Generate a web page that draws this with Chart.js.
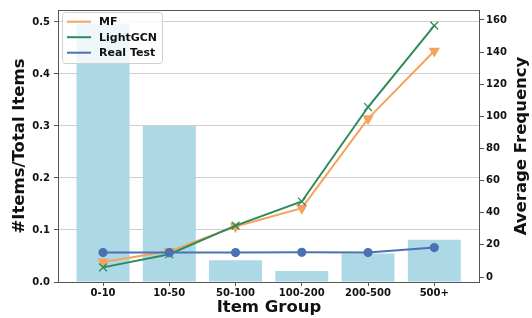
<!DOCTYPE html>
<html>
<head>
<meta charset="utf-8">
<script src="https://cdn.jsdelivr.net/npm/chart.js@4"></script>
<style>
  html, body { margin: 0; padding: 0; background: #fff; }
  canvas { display: block; }
</style>
</head>
<body>
<canvas id="chart" width="532" height="318"></canvas>
<script>
// values
const groups = ['0-10', '10-50', '50-100', '100-200', '200-500', '500+'];
const itemShare = [0.497, 0.300, 0.042, 0.021, 0.055, 0.081];
const mfFreq = [9.4, 16.0, 31.4, 42.9, 98.6, 140.7];
const lightgcnFreq = [6.0, 14.2, 32.0, 47.0, 105.8, 156.5];
const realTestFreq = [15.2, 15.2, 15.2, 15.4, 15.2, 18.3];
const leftTicks = [0, 0.1, 0.2, 0.3, 0.4, 0.5];
const rightTicks = [0, 20, 40, 60, 80, 100, 120, 140, 160];

const COLORS = {
  bar: '#ADD8E6',
  mf: '#F5A35C',
  lightgcn: '#2E8B57',
  real: '#4A72B2',
  spine: '#555',
  grid: '#cfcfcf',
  text: '#111'
};
const FONT = '"DejaVu Sans", sans-serif';

const toPoints = arr => arr.map((v, i) => ({ x: i, y: v }));

// legend, axis titles and frame drawn by hand (matplotlib style)
const decorations = {
  id: 'decorations',
  afterDraw(chart) {
    const { ctx, chartArea: a } = chart;
    ctx.save();

    // frame
    ctx.strokeStyle = COLORS.spine;
    ctx.lineWidth = 1;
    ctx.strokeRect(Math.round(a.left) + 0.5, Math.round(a.top) + 0.5,
      Math.round(a.right - a.left) - 1, Math.round(a.bottom - a.top));

    // axis titles
    ctx.fillStyle = COLORS.text;
    ctx.font = 'bold 16.5px ' + FONT;
    ctx.textAlign = 'center';
    ctx.textBaseline = 'middle';
    const midY = (a.top + a.bottom) / 2;
    ctx.fillText('Item Group', (a.left + a.right) / 2, 308);

    ctx.save();
    ctx.translate(20, midY);
    ctx.rotate(-Math.PI / 2);
    ctx.fillText('#Items/Total Items', 0, 0);
    ctx.restore();

    ctx.save();
    ctx.translate(521.5, midY);
    ctx.rotate(-Math.PI / 2);
    ctx.fillText('Average Frequency', 0, 0);
    ctx.restore();

    // legend box
    const bx = 62.5, by = 12.5, bw = 100, bh = 51, r = 3;
    ctx.beginPath();
    ctx.moveTo(bx + r, by);
    ctx.arcTo(bx + bw, by, bx + bw, by + bh, r);
    ctx.arcTo(bx + bw, by + bh, bx, by + bh, r);
    ctx.arcTo(bx, by + bh, bx, by, r);
    ctx.arcTo(bx, by, bx + bw, by, r);
    ctx.closePath();
    ctx.fillStyle = 'rgba(255,255,255,0.8)';
    ctx.fill();
    ctx.strokeStyle = '#d0d0d0';
    ctx.stroke();

    const entries = [
      ['MF', COLORS.mf],
      ['LightGCN', COLORS.lightgcn],
      ['Real Test', COLORS.real]
    ];
    ctx.font = 'bold 11px ' + FONT;
    ctx.textAlign = 'left';
    entries.forEach(([label, color], i) => {
      const y = 21.7 + i * 15.5;
      ctx.strokeStyle = color;
      ctx.lineWidth = 2;
      ctx.beginPath();
      ctx.moveTo(67, y);
      ctx.lineTo(91, y);
      ctx.stroke();
      ctx.fillStyle = COLORS.text;
      ctx.fillText(label, 99, y + 0.5);
    });

    ctx.restore();
  }
};

const lineDataset = (label, data, color, pointStyle, radius, extra) => Object.assign({
  type: 'line',
  label: label,
  data: toPoints(data),
  yAxisID: 'y2',
  borderColor: color,
  backgroundColor: color,
  pointBackgroundColor: color,
  pointBorderColor: color,
  borderWidth: 2,
  tension: 0,
  pointStyle: pointStyle,
  pointRadius: radius,
  order: 1
}, extra || {});

new Chart(document.getElementById('chart'), {
  type: 'bar',
  data: {
    datasets: [
      {
        label: 'items',
        data: toPoints(itemShare),
        yAxisID: 'y',
        backgroundColor: COLORS.bar,
        borderWidth: 0,
        barPercentage: 0.8,
        categoryPercentage: 1.0,
        order: 10
      },
      lineDataset('MF', mfFreq, COLORS.mf, 'triangle', 4.6, { pointRotation: 180, order: 3 }),
      lineDataset('LightGCN', lightgcnFreq, COLORS.lightgcn, 'crossRot', 5.5, { pointBorderWidth: 1.3, order: 2 }),
      lineDataset('Real Test', realTestFreq, COLORS.real, 'circle', 3.6, { order: 1 })
    ]
  },
  options: {
    responsive: false,
    animation: false,
    devicePixelRatio: 1,
    layout: { padding: { top: 7, left: 0, right: 0, bottom: 0 } },
    plugins: {
      legend: { display: false },
      tooltip: { enabled: false }
    },
    scales: {
      x: {
        type: 'linear',
        min: -0.68,
        max: 5.69,
        offset: false,
        afterBuildTicks: s => { s.ticks = groups.map((g, i) => ({ value: i })); },
        afterFit: s => { s.height = 36; },
        ticks: {
          autoSkip: false,
          maxRotation: 0,
          padding: 1,
          color: COLORS.text,
          font: { family: FONT, size: 10, weight: 'bold' },
          callback: v => groups[v]
        },
        grid: { drawOnChartArea: false, offset: false, tickLength: 4, tickColor: COLORS.spine },
        border: { display: false }
      },
      y: {
        position: 'left',
        min: 0,
        max: 0.523,
        afterBuildTicks: s => { s.ticks = leftTicks.map(v => ({ value: v })); },
        afterFit: s => { s.width = 58; },
        ticks: {
          padding: 4,
          color: COLORS.text,
          font: { family: FONT, size: 10, weight: 'bold' },
          callback: v => v.toFixed(1)
        },
        grid: { color: COLORS.grid, lineWidth: 1, tickLength: 4, tickColor: COLORS.spine },
        border: { display: false }
      },
      y2: {
        position: 'right',
        min: -3.1,
        max: 166.2,
        afterBuildTicks: s => { s.ticks = rightTicks.map(v => ({ value: v })); },
        afterFit: s => { s.width = 52; },
        ticks: {
          padding: 2,
          color: COLORS.text,
          font: { family: FONT, size: 10, weight: 'bold' },
          callback: v => String(v)
        },
        grid: { drawOnChartArea: false, tickLength: 4, tickColor: COLORS.spine },
        border: { display: false }
      }
    }
  },
  plugins: [decorations]
});
</script>
</body>
</html>
